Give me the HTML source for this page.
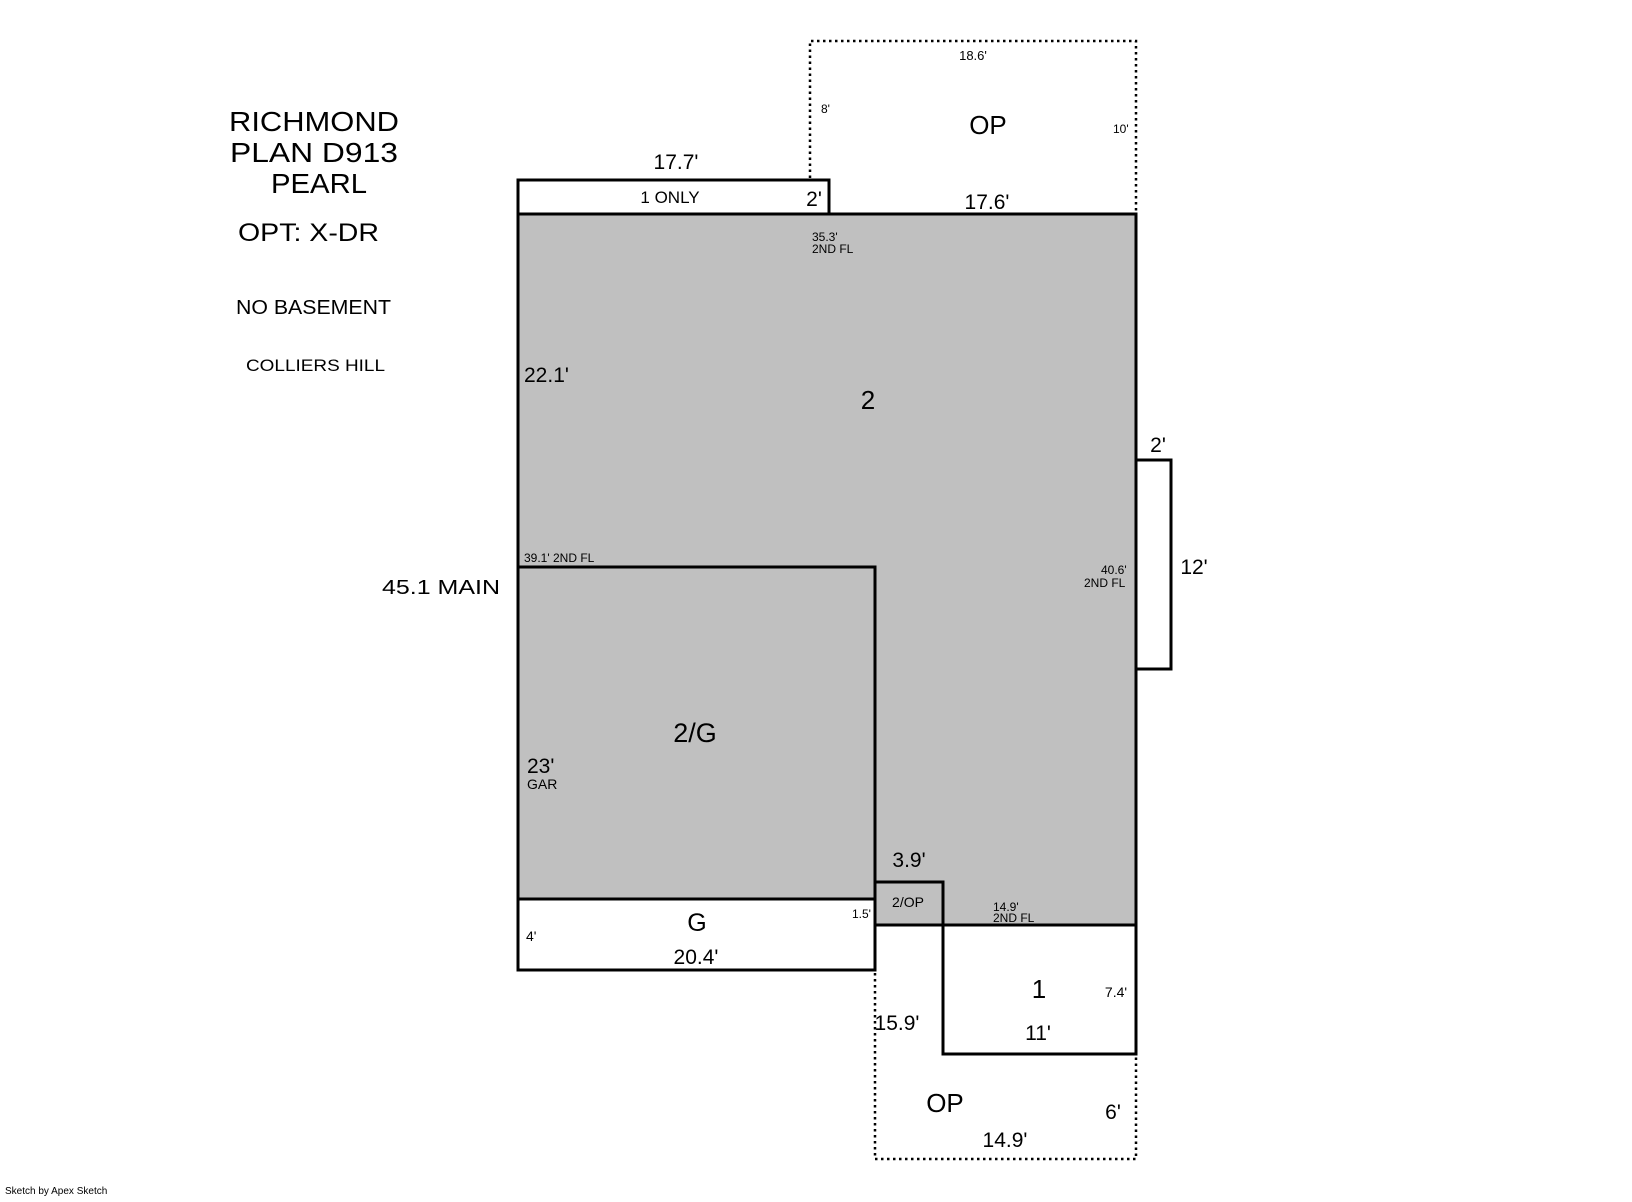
<!DOCTYPE html>
<html><head><meta charset="utf-8"><style>html,body{margin:0;padding:0;background:#fff}</style></head>
<body>
<svg width="1632" height="1197" viewBox="0 0 1632 1197" xmlns="http://www.w3.org/2000/svg" font-family="'Liberation Sans',sans-serif" fill="#000">
<rect width="1632" height="1197" fill="#fff"/>
<g fill="none" stroke="#000" stroke-width="2.5" stroke-dasharray="2.5,3.5">
<path d="M810,214 V41 H1136 V214"/>
<path d="M875,925 V1159 H1136 V1054"/>
</g>
<path d="M518,214 H1136 V925 H875 V899 H518 Z" fill="#c0c0c0" stroke="#000" stroke-width="3"/>
<rect x="518" y="567" width="357" height="332" fill="#c0c0c0" stroke="#000" stroke-width="3"/>
<rect x="875" y="882" width="68" height="43" fill="#c0c0c0" stroke="#000" stroke-width="3"/>
<g fill="#fff" stroke="#000" stroke-width="3">
<rect x="518" y="180" width="311" height="34"/>
<rect x="518" y="899" width="357" height="71"/>
<rect x="943" y="925" width="193" height="129"/>
<rect x="1136" y="460" width="35" height="209"/>
</g>
<g>
<text x="229" y="131" font-size="28" textLength="170" lengthAdjust="spacingAndGlyphs">RICHMOND</text>
<text x="230" y="162" font-size="28" textLength="168" lengthAdjust="spacingAndGlyphs">PLAN D913</text>
<text x="271" y="193" font-size="28" textLength="96" lengthAdjust="spacingAndGlyphs">PEARL</text>
<text x="238" y="241" font-size="25" textLength="141" lengthAdjust="spacingAndGlyphs">OPT: X-DR</text>
<text x="236" y="314" font-size="20" textLength="155" lengthAdjust="spacingAndGlyphs">NO BASEMENT</text>
<text x="246" y="371" font-size="17" textLength="139" lengthAdjust="spacingAndGlyphs">COLLIERS HILL</text>
<text x="382" y="594" font-size="20" textLength="118" lengthAdjust="spacingAndGlyphs">45.1 MAIN</text>
</g>
<g text-anchor="middle">
<text x="676" y="169" font-size="21">17.7'</text>
<text x="670" y="203" font-size="17">1 ONLY</text>
<text x="814" y="206" font-size="21">2'</text>
<text x="987" y="209" font-size="21">17.6'</text>
<text x="973" y="60" font-size="13">18.6'</text>
<text x="988" y="134" font-size="26">OP</text>
<text x="868" y="409" font-size="26">2</text>
<text x="1158" y="452" font-size="21">2'</text>
<text x="1194" y="574" font-size="21">12'</text>
<text x="695" y="742" font-size="27">2/G</text>
<text x="909" y="867" font-size="21">3.9'</text>
<text x="908" y="907" font-size="14">2/OP</text>
<text x="697" y="931" font-size="25">G</text>
<text x="696" y="964" font-size="21">20.4'</text>
<text x="1039" y="998" font-size="26">1</text>
<text x="1116" y="997" font-size="14">7.4'</text>
<text x="897" y="1030" font-size="21">15.9'</text>
<text x="1038" y="1040" font-size="21">11'</text>
<text x="945" y="1112" font-size="26">OP</text>
<text x="1113" y="1119" font-size="21">6'</text>
<text x="1005" y="1147" font-size="21">14.9'</text>
</g>
<g font-size="12">
<text x="821" y="113">8'</text>
<text x="1113" y="133">10'</text>
<text x="812" y="241">35.3'</text>
<text x="812" y="253">2ND FL</text>
<text x="1101" y="574">40.6'</text>
<text x="1084" y="587">2ND FL</text>
<text x="524" y="562">39.1'  2ND FL</text>
<text x="852" y="918">1.5'</text>
<text x="993" y="911">14.9'</text>
<text x="993" y="922">2ND FL</text>
</g>
<text x="524" y="382" font-size="21">22.1'</text>
<text x="527" y="773" font-size="21">23'</text>
<text x="527" y="789" font-size="14">GAR</text>
<text x="526" y="941" font-size="14">4'</text>
<text x="5" y="1194" font-size="10">Sketch by Apex Sketch</text>
</svg>
</body></html>
